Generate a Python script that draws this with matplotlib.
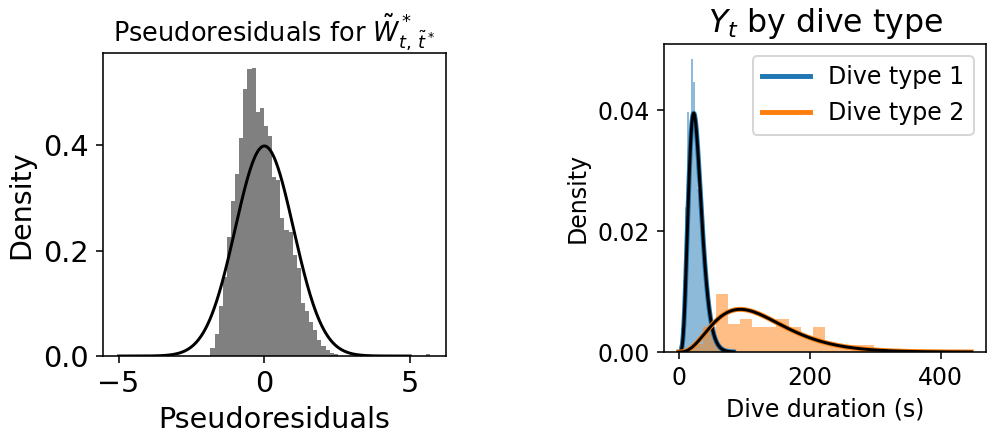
import math
import numpy as np
import matplotlib
matplotlib.use("Agg")
import matplotlib.pyplot as plt

plt.rcParams['font.size'] = 12

# pseudoresidual histogram (density), bins of equal width
resid_start = -1.85
resid_width = 0.141
resid_heights = [0.015, 0.042, 0.095, 0.15, 0.226, 0.295, 0.345, 0.415, 0.507, 0.545,
                 0.548, 0.463, 0.472, 0.437, 0.418, 0.34, 0.335, 0.262, 0.24, 0.235,
                 0.192, 0.168, 0.10, 0.085, 0.065, 0.05, 0.03, 0.02, 0.012, 0.006, 0.003]
# lone outlier bin far in the right tail
outlier_center = 5.62
outlier_height = 0.003

# standard normal reference curve
norm_mu = 0.0
norm_sd = 1.0
norm_range = (-5, 5)

# dive durations, type 1 (short dives)
dive1_start = 1.0
dive1_width = 3.0
dive1_heights = [0.001, 0.004, 0.012, 0.024, 0.0397, 0.036, 0.0485, 0.0446, 0.038, 0.027,
                 0.031, 0.024, 0.018, 0.0125, 0.011, 0.005, 0.004, 0.0025, 0.0017, 0.001,
                 0.0006, 0.0004, 0.0002]

# dive durations, type 2 (long dives)
dive2_start = 0.5
dive2_width = 18.6
dive2_heights = [0.0002, 0.0013, 0.0042, 0.0096, 0.0046, 0.0055, 0.0041, 0.0041, 0.0055, 0.0041,
                 0.0026, 0.0041, 0.0012, 0.0012, 0.0012, 0.0012, 0.0003, 0.0003, 0.0003, 0.0003,
                 0.0003, 0.0003, 0.0003, 0.0003]

# fitted gamma densities (shape, scale) and plotting ranges
gamma1 = (6.35, 4.3)
gamma2 = (3.94, 32.0)
gamma1_range = (0, 84)
gamma2_range = (0, 447)


def gamma_pdf(x, k, theta):
    x = np.asarray(x, dtype=float)
    out = np.zeros_like(x)
    pos = x > 0
    out[pos] = np.exp((k - 1) * np.log(x[pos]) - x[pos] / theta - math.lgamma(k) - k * math.log(theta))
    return out


def normal_pdf(x, mu, sd):
    return np.exp(-0.5 * ((x - mu) / sd) ** 2) / (sd * np.sqrt(2 * np.pi))


fig = plt.figure(figsize=(994 / 142, 439 / 142), dpi=142)
ax1 = fig.add_axes([0.1036, 0.189, 0.345, 0.690])
ax2 = fig.add_axes([0.668, 0.198, 0.324, 0.7016])

# left panel (drawn with larger labels than the right one)
lefts = resid_start + resid_width * np.arange(len(resid_heights))
ax1.bar(lefts, resid_heights, width=resid_width, align='edge', color='gray', linewidth=0)
ax1.bar([outlier_center], [outlier_height], width=resid_width, color='gray', linewidth=0)
xs = np.linspace(norm_range[0], norm_range[1], 400)
ax1.plot(xs, normal_pdf(xs, norm_mu, norm_sd), color='black', lw=1.5)
ax1.set_title(r"Pseudoresiduals for $\tilde{W}^*_{t,\,\tilde{t}^*}$", fontsize=13)
ax1.set_xlabel("Pseudoresiduals", fontsize=14.5)
ax1.set_ylabel("Density", fontsize=14.5)
ax1.set_yticks([0.0, 0.2, 0.4])
ax1.tick_params(labelsize=14.5)

# right panel
l1 = dive1_start + dive1_width * np.arange(len(dive1_heights))
l2 = dive2_start + dive2_width * np.arange(len(dive2_heights))
ax2.bar(l1, dive1_heights, width=dive1_width, align='edge', color='C0', alpha=0.5, linewidth=0)
ax2.bar(l2, dive2_heights, width=dive2_width, align='edge', color='C1', alpha=0.5, linewidth=0)
x1 = np.linspace(gamma1_range[0], gamma1_range[1], 400)
x2 = np.linspace(gamma2_range[0], gamma2_range[1], 600)
ax2.plot(x1, gamma_pdf(x1, *gamma1), color='C0', lw=2.5, label='Dive type 1')
ax2.plot(x1, gamma_pdf(x1, *gamma1), color='black', lw=1.5)
ax2.plot(x2, gamma_pdf(x2, *gamma2), color='C1', lw=2.5, label='Dive type 2')
ax2.plot(x2, gamma_pdf(x2, *gamma2), color='black', lw=1.5)
ax2.set_title(r"$Y_t$ by dive type", fontsize=16)
ax2.set_xlabel("Dive duration (s)")
ax2.set_ylabel("Density")
ax2.set_yticks([0.00, 0.02, 0.04])
ax2.legend(loc='upper right')

fig.savefig("out.png", dpi=142)
